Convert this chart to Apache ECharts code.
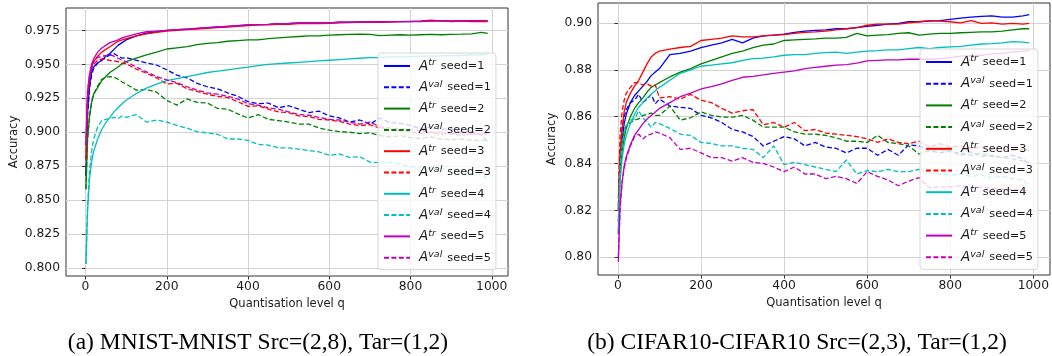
<!DOCTYPE html>
<html><head><meta charset="utf-8">
<script src="https://cdn.jsdelivr.net/npm/echarts@6.0.0/dist/echarts.min.js"></script>
<style>html,body{margin:0;padding:0;background:#fff}#c{width:1052px;height:356px}</style>
</head><body><div id="c"></div>
<script>
// Quantisation levels (shared x positions for both panels)
const q = [1,5,10,15,20,30,40,50,60,70,80,90,100,
  125,150,175,200,225,250,275,300,325,350,375,400,
  425,450,475,500,525,550,575,600,625,650,675,700,
  725,750,775,800,825,850,875,900,925,950,975,990];

const xTicks = [0,200,400,600,800,1000];
const yTicksA = [0.800,0.825,0.850,0.875,0.900,0.925,0.950,0.975];
const yTicksB = [0.80,0.82,0.84,0.86,0.88,0.90];
const seeds = [1,2,3,4,5];
const captionA = '(a) MNIST-MNIST Src=(2,8), Tar=(1,2)';
const captionB = '(b) CIFAR10-CIFAR10 Src=(2,3), Tar=(1,2)';
const xTitle = 'Quantisation level q';
const yTitle = 'Accuracy';

// ---- Panel (a) MNIST ----
const aTr1 = [0.868,0.915,0.935,0.944,0.948,0.951,0.953,0.956,0.958,0.961,0.964,0.966,0.968,
  0.971,0.973,0.974,0.975,0.9755,0.976,0.9765,0.977,0.9775,0.978,0.9785,0.979,
  0.9792,0.9795,0.980,0.980,0.9805,0.9805,0.9805,0.9805,0.981,0.981,0.9812,0.9812,
  0.9815,0.9815,0.9815,0.9817,0.9818,0.982,0.982,0.9818,0.982,0.9822,0.9822,0.982];
const aVal1 = [0.868,0.912,0.932,0.942,0.947,0.951,0.953,0.955,0.957,0.958,0.956,0.9545,0.955,
  0.953,0.951,0.9495,0.946,0.942,0.940,0.936,0.9335,0.932,0.929,0.9265,0.9225,
  0.921,0.9215,0.918,0.9195,0.917,0.9145,0.9155,0.912,0.9105,0.9075,0.909,0.906,
  0.9105,0.907,0.9065,0.905,0.9025,0.904,0.902,0.9025,0.900,0.9005,0.898,0.893];
const aTr2 = [0.858,0.895,0.912,0.922,0.928,0.933,0.938,0.941,0.944,0.946,0.948,0.9505,0.952,
  0.9545,0.957,0.959,0.9613,0.9622,0.963,0.9645,0.9655,0.966,0.967,0.9675,0.968,
  0.968,0.969,0.9695,0.970,0.9705,0.971,0.971,0.9715,0.9718,0.972,0.9722,0.972,
  0.9712,0.9715,0.9718,0.9715,0.9718,0.972,0.9718,0.972,0.9722,0.9725,0.9735,0.9728];
const aVal2 = [0.858,0.895,0.912,0.922,0.928,0.934,0.939,0.9405,0.941,0.9405,0.939,0.937,0.9355,
  0.931,0.9315,0.9295,0.9235,0.920,0.9245,0.922,0.9215,0.9175,0.917,0.9135,0.9105,
  0.913,0.9095,0.9085,0.9075,0.906,0.906,0.903,0.9015,0.9005,0.900,0.899,0.8995,
  0.8975,0.8965,0.8975,0.896,0.8955,0.8965,0.895,0.8945,0.895,0.894,0.894,0.8945];
const aTr3 = [0.88,0.925,0.94,0.948,0.952,0.956,0.959,0.961,0.963,0.965,0.967,0.968,0.969,
  0.971,0.9725,0.9735,0.9745,0.975,0.9755,0.976,0.9765,0.977,0.9775,0.978,0.9785,
  0.979,0.979,0.9795,0.9795,0.980,0.980,0.980,0.9802,0.9805,0.9807,0.981,0.981,
  0.981,0.9812,0.9815,0.9815,0.9818,0.9825,0.982,0.9815,0.9818,0.9815,0.9815,0.9815];
const aVal3 = [0.88,0.925,0.94,0.947,0.95,0.953,0.954,0.9535,0.953,0.9525,0.952,0.9505,0.9505,
  0.9465,0.9435,0.940,0.9355,0.936,0.932,0.930,0.928,0.9265,0.9255,0.9225,0.919,
  0.9195,0.917,0.915,0.9145,0.912,0.9115,0.9095,0.909,0.908,0.906,0.905,0.9055,
  0.903,0.902,0.901,0.9005,0.899,0.900,0.8985,0.899,0.8975,0.899,0.898,0.899];
const aTr4 = [0.803,0.842,0.866,0.878,0.886,0.895,0.902,0.907,0.911,0.915,0.918,0.921,0.9235,
  0.9285,0.9325,0.9355,0.938,0.9395,0.941,0.9425,0.944,0.945,0.946,0.947,0.948,
  0.949,0.950,0.9505,0.951,0.9515,0.952,0.9525,0.953,0.9535,0.954,0.9545,0.955,
  0.955,0.9555,0.9555,0.9555,0.956,0.956,0.9562,0.9565,0.9565,0.957,0.957,0.9575];
const aVal4 = [0.803,0.845,0.872,0.886,0.895,0.904,0.9085,0.9095,0.910,0.911,0.910,0.912,0.911,
  0.913,0.9075,0.909,0.9075,0.905,0.903,0.9005,0.8995,0.8985,0.895,0.895,0.894,
  0.891,0.8905,0.8885,0.8885,0.8875,0.8865,0.8855,0.883,0.884,0.8815,0.882,0.878,
  0.8775,0.878,0.8765,0.8745,0.8745,0.873,0.8735,0.872,0.8715,0.8695,0.8685,0.8655];
const aTr5 = [0.89,0.93,0.943,0.95,0.954,0.959,0.962,0.964,0.966,0.967,0.968,0.9695,0.9705,
  0.9725,0.974,0.9745,0.975,0.9755,0.976,0.9765,0.977,0.9775,0.978,0.9785,0.979,
  0.9792,0.9795,0.980,0.9802,0.9805,0.9805,0.9805,0.9805,0.981,0.981,0.981,0.9812,
  0.9812,0.9815,0.9815,0.9815,0.9815,0.9818,0.982,0.982,0.982,0.982,0.9822,0.9822];
const aVal5 = [0.89,0.93,0.942,0.949,0.952,0.955,0.956,0.9565,0.957,0.956,0.9545,0.953,0.952,
  0.948,0.9445,0.941,0.9385,0.9365,0.9335,0.931,0.929,0.928,0.9265,0.9245,0.921,
  0.920,0.918,0.917,0.915,0.913,0.9125,0.911,0.9095,0.909,0.9075,0.906,0.9075,
  0.904,0.903,0.9025,0.902,0.901,0.900,0.900,0.899,0.8995,0.8985,0.899,0.8985];

// ---- Panel (b) CIFAR10 ----
const bTr1 = [0.81,0.838,0.85,0.857,0.861,0.866,0.869,0.871,0.873,0.875,0.8775,0.879,0.8805,
  0.8865,0.887,0.888,0.8895,0.8905,0.8915,0.893,0.8915,0.8935,0.8945,0.8948,0.8952,
  0.896,0.8965,0.8968,0.897,0.8975,0.8975,0.898,0.8985,0.899,0.8995,0.8998,0.9005,
  0.9005,0.9008,0.901,0.9015,0.902,0.9025,0.9028,0.903,0.9025,0.9025,0.903,0.9035];
const bVal1 = [0.822,0.845,0.855,0.86,0.863,0.866,0.867,0.8695,0.866,0.8675,0.8695,0.8655,0.8675,
  0.8645,0.864,0.8635,0.8605,0.8595,0.8575,0.8545,0.8535,0.8515,0.8475,0.8495,0.8515,
  0.8505,0.8475,0.849,0.847,0.8465,0.8445,0.8465,0.8465,0.8435,0.846,0.8435,0.848,
  0.8475,0.8455,0.8445,0.8455,0.8435,0.845,0.843,0.8435,0.8425,0.8435,0.842,0.8395];
const bTr2 = [0.815,0.835,0.845,0.851,0.855,0.86,0.8635,0.866,0.868,0.8705,0.8725,0.8735,0.8745,
  0.877,0.879,0.8805,0.8825,0.884,0.8855,0.887,0.888,0.8895,0.8905,0.891,0.8925,
  0.8928,0.893,0.8932,0.8935,0.8935,0.8938,0.8955,0.8945,0.8948,0.895,0.8955,0.8958,
  0.8948,0.8952,0.8955,0.8955,0.8958,0.896,0.8962,0.8962,0.8965,0.897,0.8975,0.8975];
const bVal2 = [0.82,0.84,0.85,0.854,0.856,0.8575,0.8585,0.859,0.8605,0.861,0.8615,0.8605,0.8605,
  0.8645,0.8585,0.8595,0.862,0.8605,0.8598,0.8598,0.8605,0.8585,0.8555,0.8555,0.8555,
  0.8535,0.8525,0.8525,0.852,0.851,0.8495,0.8495,0.849,0.852,0.849,0.8485,0.8475,
  0.844,0.8455,0.846,0.845,0.8445,0.8435,0.8445,0.843,0.8425,0.842,0.841,0.8405];
const bTr3 = [0.82,0.845,0.855,0.862,0.866,0.870,0.873,0.8755,0.879,0.8825,0.8855,0.887,0.888,
  0.8888,0.8895,0.890,0.8925,0.893,0.8935,0.8945,0.894,0.894,0.8945,0.8948,0.895,
  0.8955,0.896,0.8962,0.8965,0.897,0.8975,0.898,0.899,0.8995,0.8995,0.8995,0.900,
  0.9005,0.901,0.9008,0.9005,0.900,0.901,0.8998,0.900,0.8995,0.8998,0.8995,0.8998];
const bVal3 = [0.825,0.852,0.862,0.867,0.87,0.8725,0.8745,0.8745,0.8735,0.874,0.873,0.8735,0.868,
  0.8685,0.8675,0.8695,0.867,0.866,0.8635,0.8615,0.8625,0.863,0.8565,0.8575,0.8555,
  0.8575,0.854,0.8545,0.853,0.8525,0.852,0.8515,0.8505,0.849,0.8505,0.849,0.8485,
  0.8495,0.847,0.8485,0.847,0.8475,0.8465,0.847,0.846,0.8465,0.8455,0.846,0.8455];
const bTr4 = [0.81,0.832,0.842,0.848,0.852,0.857,0.861,0.864,0.866,0.868,0.8695,0.871,0.8725,
  0.8755,0.8785,0.880,0.8815,0.882,0.8825,0.883,0.884,0.8848,0.885,0.8855,0.8862,
  0.8865,0.8865,0.887,0.8873,0.8875,0.887,0.8875,0.888,0.8882,0.8885,0.8885,0.889,
  0.8895,0.889,0.8895,0.8898,0.890,0.8905,0.891,0.8912,0.8915,0.892,0.8918,0.8915];
const bVal4 = [0.815,0.838,0.848,0.853,0.856,0.8585,0.859,0.8625,0.8595,0.8575,0.8555,0.8575,0.857,
  0.855,0.8525,0.852,0.849,0.8485,0.8475,0.8475,0.8465,0.846,0.8425,0.8475,0.8395,
  0.8405,0.8395,0.8385,0.8375,0.8365,0.8415,0.8355,0.837,0.8365,0.8375,0.8365,0.8365,
  0.8375,0.836,0.8355,0.835,0.8355,0.8345,0.835,0.834,0.8345,0.8335,0.833,0.8305];
const bTr5 = [0.798,0.822,0.832,0.839,0.843,0.848,0.852,0.8545,0.857,0.859,0.8605,0.862,0.8635,
  0.866,0.8685,0.870,0.8718,0.8728,0.874,0.8755,0.8768,0.8772,0.8778,0.8785,0.879,
  0.8795,0.8805,0.881,0.8815,0.882,0.8822,0.8828,0.8838,0.884,0.8842,0.8842,0.8845,
  0.8845,0.8845,0.8848,0.8852,0.8858,0.886,0.8862,0.8868,0.887,0.8875,0.888,0.8882];
const bVal5 = [0.80,0.82,0.832,0.838,0.842,0.8475,0.8515,0.8525,0.8505,0.852,0.8525,0.8535,0.853,
  0.851,0.846,0.8465,0.8445,0.8425,0.8425,0.841,0.8425,0.8405,0.840,0.8385,0.8365,
  0.8385,0.8355,0.8355,0.8335,0.8345,0.8335,0.8315,0.8365,0.8345,0.833,0.8305,0.8325,
  0.834,0.8295,0.830,0.830,0.8305,0.8295,0.830,0.8295,0.829,0.829,0.8285,0.8285];

const colors = ['#0000ff','#008000','#ff0000','#00bfbf','#bf00bf'];
const FONT = 'DejaVu Sans';
const TXT = '#1a1a1a';

const trA = [aTr1,aTr2,aTr3,aTr4,aTr5], valA = [aVal1,aVal2,aVal3,aVal4,aVal5];
const trB = [bTr1,bTr2,bTr3,bTr4,bTr5], valB = [bVal1,bVal2,bVal3,bVal4,bVal5];

function panelSeries(prefix, gi, trs, vals) {
  const out = [];
  seeds.forEach((s, i) => {
    [['tr', trs[i], 'solid'], ['val', vals[i], [5, 2.4]]].forEach(([kind, arr, dash]) => {
      out.push({
        name: prefix + '-' + kind + '-' + s,
        type: 'line', xAxisIndex: gi, yAxisIndex: gi,
        symbol: 'none', showSymbol: false, smooth: false,
        lineStyle: { color: colors[i], width: 1.3, type: dash },
        itemStyle: { color: colors[i] },
        data: q.map((x, k) => [x, arr[k]]),
        z: 2
      });
    });
  });
  return out;
}
const seriesA = panelSeries('a', 0, trA, valA);
const seriesB = panelSeries('b', 1, trB, valB);

function xAxisCfg(gi) {
  return {
    gridIndex: gi, type: 'value', min: -48, max: 1040,
    name: xTitle, nameLocation: 'middle', nameGap: 21,
    nameTextStyle: { fontFamily: FONT, fontSize: 11.5, color: TXT },
    axisLine: { show: false },
    axisTick: { show: true, customValues: xTicks, length: 3.5, lineStyle: { color: '#333', width: 1 } },
    axisLabel: { customValues: xTicks, margin: 5, fontFamily: FONT, fontSize: 12.3, color: TXT,
      formatter: v => String(Math.round(v)) },
    splitLine: { show: true, lineStyle: { color: '#d3d3d3', width: 1 } }
  };
}
function yAxisCfg(gi, min, max, ticks, dec, gap) {
  return {
    gridIndex: gi, type: 'value', min: min, max: max,
    name: yTitle, nameLocation: 'middle', nameGap: gap, nameRotate: 90,
    nameTextStyle: { fontFamily: FONT, fontSize: 11.5, color: TXT },
    axisLine: { show: false },
    axisTick: { show: true, customValues: ticks, length: 3.5, lineStyle: { color: '#333', width: 1 } },
    axisLabel: { customValues: ticks, margin: 6, fontFamily: FONT, fontSize: 12.3, color: TXT,
      formatter: v => v.toFixed(dec) },
    splitLine: { show: true, lineStyle: { color: '#d3d3d3', width: 1 } }
  };
}
function legendCfg(prefix, left, top, gap) {
  const data = [];
  seeds.forEach(s => { data.push(prefix + '-tr-' + s); data.push(prefix + '-val-' + s); });
  return {
    data: data, orient: 'vertical', left: left, top: top,
    itemWidth: 26, itemHeight: 14, itemGap: gap, padding: [5, 5, 5, 5],
    backgroundColor: 'rgba(255,255,255,0.8)', borderColor: '#d6d6d6', borderWidth: 1, borderRadius: 3,
    selectedMode: false,
    itemStyle: { opacity: 0 },
    formatter: name => { const p = name.split('-'); return '{a|A}{s|' + p[1] + '}{t|seed=' + p[2] + '}'; },
    textStyle: {
      fontFamily: FONT, fontSize: 11.3, color: TXT,
      rich: {
        a: { fontFamily: FONT, fontStyle: 'italic', fontSize: 13.5, lineHeight: 16, color: TXT, padding: [0, 0, 0, 4] },
        s: { fontFamily: FONT, fontStyle: 'italic', fontSize: 9.5, lineHeight: 10, verticalAlign: 'top', color: TXT },
        t: { fontFamily: FONT, fontSize: 11.3, lineHeight: 16, color: TXT, padding: [0, 0, 0, 5] }
      }
    }
  };
}

const chart = echarts.init(document.getElementById('c'), null, { renderer: 'canvas' });
chart.setOption({
  animation: false,
  backgroundColor: '#ffffff',
  grid: [
    { left: 66, top: 8, width: 442, height: 268, show: true, borderColor: '#333', borderWidth: 1, backgroundColor: 'transparent' },
    { left: 598, top: 3, width: 453, height: 272, show: true, borderColor: '#333', borderWidth: 1, backgroundColor: 'transparent' }
  ],
  xAxis: [xAxisCfg(0), xAxisCfg(1)],
  yAxis: [
    yAxisCfg(0, 0.7941, 0.9915, yTicksA, 3, 46),
    yAxisCfg(1, 0.7924, 0.9085, yTicksB, 2, 40)
  ],
  legend: [legendCfg('a', 378, 53, 6.3), legendCfg('b', 920, 49, 6.7)],
  series: seriesA.concat(seriesB),
  graphic: [
    { type: 'text', x: 258, y: 343, style: { text: captionA, fontFamily: 'Liberation Serif', fontSize: 23.5, fill: '#000', align: 'center', verticalAlign: 'middle' } },
    { type: 'text', x: 797, y: 343, style: { text: captionB, fontFamily: 'Liberation Serif', fontSize: 23.5, fill: '#000', align: 'center', verticalAlign: 'middle' } }
  ]
});
</script>
</body></html>
